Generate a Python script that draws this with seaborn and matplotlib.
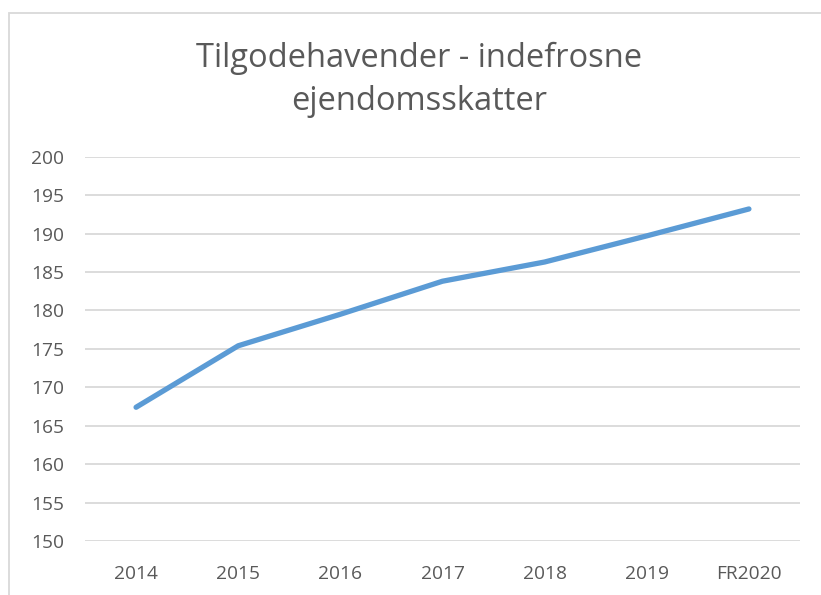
import matplotlib
matplotlib.use("Agg")
import matplotlib.pyplot as plt
import seaborn as sns
import pandas as pd
from matplotlib.patches import Rectangle

years = ["2014", "2015", "2016", "2017", "2018", "2019", "FR2020"]
values = [167.4, 175.4, 179.5, 183.8, 186.3, 189.7, 193.2]
y_ticks = list(range(150, 201, 5))

df = pd.DataFrame({"year": years, "value": values})

sns.set_style("white")
plt.rcParams["font.family"] = ["Open Sans", "DejaVu Sans"]

fig = plt.figure(figsize=(8.21, 5.95), dpi=100)
ax = fig.add_axes([85 / 821, 54 / 595, 715 / 821, 384.3 / 595])

sns.lineplot(data=df, x="year", y="value", ax=ax, color="#5B9BD5",
             linewidth=3.8, sort=False, solid_capstyle="round", solid_joinstyle="round")

ax.set_xlim(-0.5, 6.5)
ax.set_ylim(150, 200)
ax.set_yticks(y_ticks)
ax.grid(axis="y", color="#d9d9d9", linewidth=1.3)
ax.set_axisbelow(True)
for s in ax.spines.values():
    s.set_visible(False)
ax.tick_params(axis="both", length=0, labelsize=13.8, labelcolor="#595959")
ax.tick_params(axis="y", pad=15)
ax.tick_params(axis="x", pad=17)
ax.set_xlabel("")
ax.set_ylabel("")

fig.text(419 / 821, 1 - 80 / 595, "Tilgodehavender - indefrosne\nejendomsskatter",
         ha="center", va="center", fontsize=23.5, color="#595959", linespacing=1.4)

# chart area border
fig.patches.append(Rectangle((9 / 821, -0.1), 1.2, (1 - 13 / 595) + 0.1,
                             transform=fig.transFigure, fill=False,
                             edgecolor="#d9d9d9", linewidth=1.3))

fig.savefig("out.png", dpi=100)
